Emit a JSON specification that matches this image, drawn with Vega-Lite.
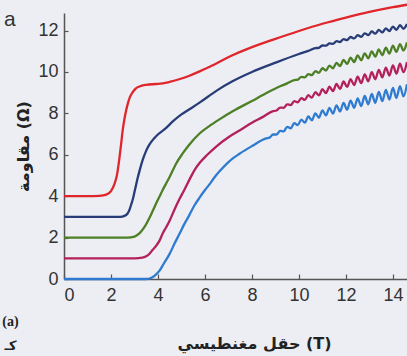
{
  "$schema": "https://vega.github.io/schema/vega-lite/v6.json",
  "width": 343,
  "height": 266,
  "autosize": {"type": "none"},
  "padding": {"left": 64, "top": 13, "right": 0, "bottom": 77},
  "background": "#eceef3",
  "config": {
    "view": {"stroke": null},
    "axis": {
      "grid": false,
      "domainColor": "#555",
      "domainWidth": 1.5,
      "tickColor": "#555",
      "tickWidth": 1.2,
      "labelFont": "Liberation Sans",
      "labelFontSize": 18,
      "labelColor": "#333",
      "titleFont": "DejaVu Sans",
      "titleFontWeight": "bold",
      "titleFontSize": 16,
      "titleColor": "#222"
    }
  },
  "datasets": {
    "curves": [
      {"s":"4","x":0,"y":4},{"s":"4","x":1.0,"y":4.0},{"s":"4","x":1.5,"y":4.02},{"s":"4","x":1.8,"y":4.08},{"s":"4","x":2.0,"y":4.25},{"s":"4","x":2.15,"y":4.6},{"s":"4","x":2.25,"y":5.0},{"s":"4","x":2.36,"y":5.85},{"s":"4","x":2.43,"y":6.5},{"s":"4","x":2.5,"y":7.2},{"s":"4","x":2.6,"y":7.9},{"s":"4","x":2.71,"y":8.45},{"s":"4","x":2.81,"y":8.8},{"s":"4","x":2.91,"y":9.0},{"s":"4","x":3.05,"y":9.2},{"s":"4","x":3.21,"y":9.3},{"s":"4","x":3.5,"y":9.38},{"s":"4","x":3.92,"y":9.42},{"s":"4","x":4.2,"y":9.45},{"s":"4","x":4.49,"y":9.52},{"s":"4","x":4.9,"y":9.65},{"s":"4","x":5.34,"y":9.82},{"s":"4","x":5.77,"y":10.03},{"s":"4","x":6.2,"y":10.25},{"s":"4","x":7.1,"y":10.77},{"s":"4","x":8.0,"y":11.2},{"s":"4","x":9.0,"y":11.6},{"s":"4","x":10.0,"y":11.98},{"s":"4","x":11.0,"y":12.33},{"s":"4","x":12.0,"y":12.63},{"s":"4","x":13.0,"y":12.9},{"s":"4","x":14.0,"y":13.13},{"s":"4","x":14.6,"y":13.25},

      {"s":"3","x":0,"y":3},{"s":"3","x":2.4,"y":3.0},{"s":"3","x":2.57,"y":3.05},{"s":"3","x":2.7,"y":3.15},{"s":"3","x":2.79,"y":3.35},{"s":"3","x":2.86,"y":3.6},{"s":"3","x":2.93,"y":3.85},{"s":"3","x":3.0,"y":4.2},{"s":"3","x":3.07,"y":4.55},{"s":"3","x":3.14,"y":4.9},{"s":"3","x":3.21,"y":5.2},{"s":"3","x":3.35,"y":5.75},{"s":"3","x":3.5,"y":6.2},{"s":"3","x":3.64,"y":6.5},{"s":"3","x":3.78,"y":6.72},{"s":"3","x":3.92,"y":6.9},{"s":"3","x":4.35,"y":7.3},{"s":"3","x":4.62,"y":7.6},{"s":"3","x":5.0,"y":7.95},{"s":"3","x":5.34,"y":8.2},{"s":"3","x":5.77,"y":8.52},{"s":"3","x":6.5,"y":9.1},{"s":"3","x":7.17,"y":9.55},{"s":"3","x":8.0,"y":10.0},{"s":"3","x":9.0,"y":10.45},{"s":"3","x":10.0,"y":10.87},{"s":"3","x":10.4,"y":11.02},
      {"s":"3","x":10.7,"y":11.15},{"s":"3","x":10.85,"y":11.17},{"s":"3","x":11.0,"y":11.28},{"s":"3","x":11.15,"y":11.27},{"s":"3","x":11.3,"y":11.38},{"s":"3","x":11.45,"y":11.36},{"s":"3","x":11.6,"y":11.49},{"s":"3","x":11.75,"y":11.45},{"s":"3","x":11.9,"y":11.59},{"s":"3","x":12.05,"y":11.54},{"s":"3","x":12.2,"y":11.69},{"s":"3","x":12.35,"y":11.62},{"s":"3","x":12.5,"y":11.78},{"s":"3","x":12.65,"y":11.7},{"s":"3","x":12.8,"y":11.87},{"s":"3","x":12.95,"y":11.78},{"s":"3","x":13.1,"y":11.96},{"s":"3","x":13.25,"y":11.85},{"s":"3","x":13.4,"y":12.03},{"s":"3","x":13.55,"y":11.91},{"s":"3","x":13.7,"y":12.11},{"s":"3","x":13.85,"y":11.98},{"s":"3","x":14.0,"y":12.19},{"s":"3","x":14.15,"y":12.04},{"s":"3","x":14.3,"y":12.26},{"s":"3","x":14.45,"y":12.09},{"s":"3","x":14.6,"y":12.32},

      {"s":"2","x":0,"y":2},{"s":"2","x":2.7,"y":2.0},{"s":"2","x":3.0,"y":2.05},{"s":"2","x":3.21,"y":2.2},{"s":"2","x":3.42,"y":2.5},{"s":"2","x":3.64,"y":2.96},{"s":"2","x":3.78,"y":3.3},{"s":"2","x":3.92,"y":3.65},{"s":"2","x":4.06,"y":3.97},{"s":"2","x":4.2,"y":4.3},{"s":"2","x":4.35,"y":4.62},{"s":"2","x":4.49,"y":4.92},{"s":"2","x":4.63,"y":5.25},{"s":"2","x":4.77,"y":5.57},{"s":"2","x":5.06,"y":6.08},{"s":"2","x":5.34,"y":6.5},{"s":"2","x":5.77,"y":7.03},{"s":"2","x":6.2,"y":7.4},{"s":"2","x":6.6,"y":7.7},{"s":"2","x":7.18,"y":8.1},{"s":"2","x":8.0,"y":8.6},{"s":"2","x":8.6,"y":8.97},{"s":"2","x":9.2,"y":9.31},{"s":"2","x":9.5,"y":9.45},
      {"s":"2","x":9.8,"y":9.61},{"s":"2","x":9.95,"y":9.63},{"s":"2","x":10.1,"y":9.76},{"s":"2","x":10.25,"y":9.74},{"s":"2","x":10.4,"y":9.9},{"s":"2","x":10.55,"y":9.85},{"s":"2","x":10.7,"y":10.04},{"s":"2","x":10.85,"y":9.96},{"s":"2","x":11.0,"y":10.18},{"s":"2","x":11.15,"y":10.07},{"s":"2","x":11.3,"y":10.31},{"s":"2","x":11.45,"y":10.18},{"s":"2","x":11.6,"y":10.44},{"s":"2","x":11.75,"y":10.29},{"s":"2","x":11.9,"y":10.58},{"s":"2","x":12.05,"y":10.39},{"s":"2","x":12.2,"y":10.69},{"s":"2","x":12.35,"y":10.48},{"s":"2","x":12.5,"y":10.8},{"s":"2","x":12.65,"y":10.57},{"s":"2","x":12.8,"y":10.9},{"s":"2","x":12.95,"y":10.66},{"s":"2","x":13.1,"y":11.0},{"s":"2","x":13.25,"y":10.74},{"s":"2","x":13.4,"y":11.09},{"s":"2","x":13.55,"y":10.81},{"s":"2","x":13.7,"y":11.18},{"s":"2","x":13.85,"y":10.89},{"s":"2","x":14.0,"y":11.27},{"s":"2","x":14.15,"y":10.97},{"s":"2","x":14.3,"y":11.35},{"s":"2","x":14.45,"y":11.04},{"s":"2","x":14.6,"y":11.43},

      {"s":"1","x":0,"y":1},{"s":"1","x":3.0,"y":1.0},{"s":"1","x":3.34,"y":1.03},{"s":"1","x":3.5,"y":1.1},{"s":"1","x":3.64,"y":1.22},{"s":"1","x":3.77,"y":1.4},{"s":"1","x":3.92,"y":1.6},{"s":"1","x":4.06,"y":1.84},{"s":"1","x":4.2,"y":2.2},{"s":"1","x":4.35,"y":2.5},{"s":"1","x":4.49,"y":2.8},{"s":"1","x":4.7,"y":3.35},{"s":"1","x":4.91,"y":3.85},{"s":"1","x":5.12,"y":4.3},{"s":"1","x":5.34,"y":4.8},{"s":"1","x":5.55,"y":5.25},{"s":"1","x":5.77,"y":5.6},{"s":"1","x":6.1,"y":6.0},{"s":"1","x":6.48,"y":6.4},{"s":"1","x":7.0,"y":6.85},{"s":"1","x":7.47,"y":7.17},{"s":"1","x":8.0,"y":7.55},{"s":"1","x":8.45,"y":7.82},
      {"s":"1","x":8.9,"y":8.11},{"s":"1","x":9.05,"y":8.14},{"s":"1","x":9.2,"y":8.28},{"s":"1","x":9.35,"y":8.27},{"s":"1","x":9.5,"y":8.44},{"s":"1","x":9.65,"y":8.4},{"s":"1","x":9.8,"y":8.59},{"s":"1","x":9.95,"y":8.53},{"s":"1","x":10.1,"y":8.74},{"s":"1","x":10.25,"y":8.65},{"s":"1","x":10.4,"y":8.88},{"s":"1","x":10.55,"y":8.76},{"s":"1","x":10.7,"y":9.03},{"s":"1","x":10.85,"y":8.87},{"s":"1","x":11.0,"y":9.17},{"s":"1","x":11.15,"y":8.98},{"s":"1","x":11.3,"y":9.29},{"s":"1","x":11.45,"y":9.08},{"s":"1","x":11.6,"y":9.42},{"s":"1","x":11.75,"y":9.18},{"s":"1","x":11.9,"y":9.54},{"s":"1","x":12.05,"y":9.28},{"s":"1","x":12.2,"y":9.65},{"s":"1","x":12.35,"y":9.37},{"s":"1","x":12.5,"y":9.77},{"s":"1","x":12.65,"y":9.46},{"s":"1","x":12.8,"y":9.88},{"s":"1","x":12.95,"y":9.55},{"s":"1","x":13.1,"y":9.99},{"s":"1","x":13.25,"y":9.65},{"s":"1","x":13.4,"y":10.1},{"s":"1","x":13.55,"y":9.74},{"s":"1","x":13.7,"y":10.21},{"s":"1","x":13.85,"y":9.83},{"s":"1","x":14.0,"y":10.32},{"s":"1","x":14.15,"y":9.92},{"s":"1","x":14.3,"y":10.4},{"s":"1","x":14.45,"y":9.99},{"s":"1","x":14.6,"y":10.48},

      {"s":"0","x":0,"y":0},{"s":"0","x":3.0,"y":0},{"s":"0","x":3.5,"y":0.0},{"s":"0","x":3.7,"y":0.05},{"s":"0","x":3.9,"y":0.2},{"s":"0","x":4.06,"y":0.39},{"s":"0","x":4.25,"y":0.75},{"s":"0","x":4.49,"y":1.2},{"s":"0","x":4.7,"y":1.7},{"s":"0","x":4.91,"y":2.17},{"s":"0","x":5.12,"y":2.65},{"s":"0","x":5.34,"y":3.1},{"s":"0","x":5.55,"y":3.55},{"s":"0","x":5.77,"y":3.93},{"s":"0","x":6.0,"y":4.3},{"s":"0","x":6.19,"y":4.57},{"s":"0","x":6.4,"y":4.9},{"s":"0","x":6.62,"y":5.2},{"s":"0","x":7.0,"y":5.65},{"s":"0","x":7.47,"y":6.05},{"s":"0","x":8.0,"y":6.42},
      {"s":"0","x":8.6,"y":6.79},{"s":"0","x":8.75,"y":6.83},{"s":"0","x":8.9,"y":6.98},{"s":"0","x":9.05,"y":6.98},{"s":"0","x":9.2,"y":7.16},{"s":"0","x":9.35,"y":7.13},{"s":"0","x":9.5,"y":7.35},{"s":"0","x":9.65,"y":7.28},{"s":"0","x":9.8,"y":7.53},{"s":"0","x":9.95,"y":7.43},{"s":"0","x":10.1,"y":7.7},{"s":"0","x":10.25,"y":7.55},{"s":"0","x":10.4,"y":7.85},{"s":"0","x":10.55,"y":7.67},{"s":"0","x":10.7,"y":8.0},{"s":"0","x":10.85,"y":7.79},{"s":"0","x":11.0,"y":8.15},{"s":"0","x":11.15,"y":7.9},{"s":"0","x":11.3,"y":8.27},{"s":"0","x":11.45,"y":7.99},{"s":"0","x":11.6,"y":8.39},{"s":"0","x":11.75,"y":8.09},{"s":"0","x":11.9,"y":8.51},{"s":"0","x":12.05,"y":8.18},{"s":"0","x":12.2,"y":8.62},{"s":"0","x":12.35,"y":8.27},{"s":"0","x":12.5,"y":8.73},{"s":"0","x":12.65,"y":8.35},{"s":"0","x":12.8,"y":8.84},{"s":"0","x":12.95,"y":8.44},{"s":"0","x":13.1,"y":8.94},{"s":"0","x":13.25,"y":8.51},{"s":"0","x":13.4,"y":9.04},{"s":"0","x":13.55,"y":8.59},{"s":"0","x":13.7,"y":9.13},{"s":"0","x":13.85,"y":8.67},{"s":"0","x":14.0,"y":9.23},{"s":"0","x":14.15,"y":8.75},{"s":"0","x":14.3,"y":9.32},{"s":"0","x":14.45,"y":8.82},{"s":"0","x":14.6,"y":9.41}
    ]
  },
  "layer": [
    {
      "data": {"name": "curves"},
      "mark": {"type": "line", "interpolate": "monotone", "strokeWidth": 2.3, "clip": false},
      "encoding": {
        "x": {
          "field": "x", "type": "quantitative",
          "scale": {"domain": [0, 14.6], "nice": false, "zero": false},
          "axis": {
            "values": [0, 2, 4, 6, 8, 10, 12, 14],
            "tickSize": -5,
            "labelPadding": 12,
            "title": "حقل مغنطيسي (T)",
            "titleX": 190,
            "titleY": 64,
            "titleBaseline": "middle",
            "titleAlign": "center"
          }
        },
        "y": {
          "field": "y", "type": "quantitative",
          "scale": {"domain": [0, 12.85], "nice": false},
          "axis": {
            "values": [0, 2, 4, 6, 8, 10, 12],
            "tickSize": -4,
            "labelPadding": 10,
            "title": "مقاومة (Ω)",
            "titleX": -41,
            "titleY": 133,
            "titleBaseline": "middle",
            "titleAlign": "center",
            "titleAngle": -90
          }
        },
        "color": {
          "field": "s", "type": "nominal",
          "scale": {"domain": ["4", "3", "2", "1", "0"], "range": ["#e0252b", "#283c78", "#4d7f25", "#b3205a", "#2e7bd0"]},
          "legend": null
        }
      }
    },
    {
      "data": {"values": [{}]},
      "mark": {"type": "text", "text": "a", "font": "Liberation Sans", "fontSize": 21, "color": "#333", "align": "center", "baseline": "middle", "clip": false},
      "encoding": {"x": {"datum": -2.3}, "y": {"datum": 12.51}}
    },
    {
      "data": {"values": [{}]},
      "mark": {"type": "text", "text": "(a)", "font": "Liberation Serif", "fontWeight": "bold", "fontSize": 14, "color": "#222", "align": "center", "baseline": "middle", "clip": false},
      "encoding": {"x": {"datum": -2.28}, "y": {"datum": -2.08}}
    },
    {
      "data": {"values": [{}]},
      "mark": {"type": "text", "text": "كـ", "font": "DejaVu Sans", "fontWeight": "bold", "fontSize": 13, "color": "#222", "align": "center", "baseline": "middle", "clip": false},
      "encoding": {"x": {"datum": -2.28}, "y": {"datum": -3.25}}
    }
  ]
}
